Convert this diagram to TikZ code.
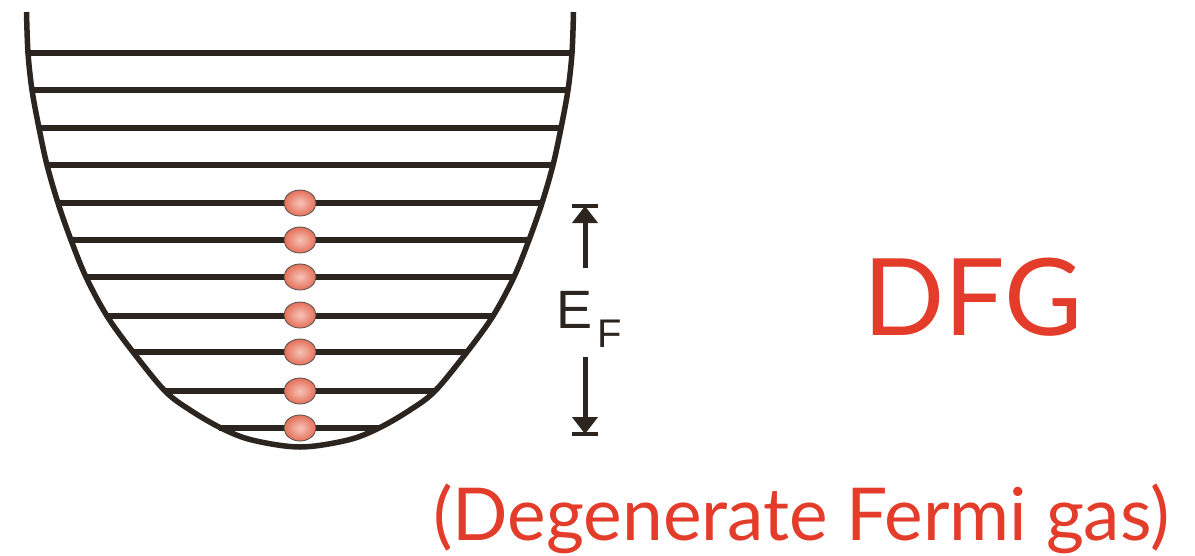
\documentclass[tikz,border=0pt]{standalone}
\usepackage{fontspec}
\setmainfont{Lato}
\newfontfamily\helv{Liberation Sans}
\usetikzlibrary{arrows.meta,shapes.geometric}
\definecolor{ink}{RGB}{43,36,31}
\definecolor{dfgred}{RGB}{228,60,42}
\definecolor{ballin}{RGB}{247,196,182}
\definecolor{ballout}{RGB}{228,112,90}
\begin{document}
\begin{tikzpicture}[x=1pt,y=-1pt,
  bowl/.style={draw=ink,line width=5.5pt,line join=round},
  level/.style={draw=ink,line width=5.5pt},
  particle/.style={ellipse,minimum width=32pt,minimum height=26pt,inner sep=0pt,
     draw=ink!80,line width=0.8pt,inner color=ballin,outer color=ballout},
  arr/.style={draw=ink,line width=5pt,-{Triangle[length=17pt,width=25pt]}},
  bar/.style={draw=ink,line width=4pt},
  lbl/.style={inner sep=0pt,anchor=base west}]
\useasboundingbox (0,0) rectangle (1195,555);
% bowl
\draw[bowl] plot[smooth,tension=0.55] coordinates {
  (26.5,12) (28,53) (32,90) (39,128) (47,165) (58,203) (71,240) (86,277)
  (107,316) (133,352) (165,391) (190,410) (221,428) (252,440) (300,447)
  (348,440) (379,428) (410,410) (435,391) (467,352) (493,316) (514,277) (529,240) (542,203)
  (553,165) (561,128) (568,90) (572,53) (573.5,12)};
% levels
\draw[level] (28,53) -- (572,53);
\draw[level] (32,90) -- (568,90);
\draw[level] (39,128) -- (561,128);
\draw[level] (47,165) -- (553,165);
\draw[level] (58,203) -- (542,203);
\draw[level] (71,240) -- (529,240);
\draw[level] (86,277) -- (514,277);
\draw[level] (107,316) -- (493,316);
\draw[level] (133,352) -- (467,352);
\draw[level] (165,391) -- (435,391);
\draw[level] (219,428) -- (379,428);
% particles
\foreach \y [count=\i] in {203,240,277,315,352,391,428}
  \node[particle] (p\i) at (300,\y) {};
% Fermi energy arrows
\coordinate (ut) at (585,206);
\coordinate (ub) at (585,268);
\coordinate (dt) at (585,357);
\coordinate (db) at (585,434);
\draw[arr] (ub) -- (ut);
\draw[arr] (dt) -- (db);
\draw[bar] ([xshift=-13pt]ut) -- ([xshift=13pt]ut);
\draw[bar] ([xshift=-13pt]db) -- ([xshift=13pt]db);
\node[lbl,text=ink,font=\helv\fontsize{54}{54}\selectfont] (E) at (556,328) {E};
\node[lbl,text=ink,font=\helv\fontsize{40}{40}\selectfont] (F) at (597,347) {F};
% labels
\node[lbl,text=dfgred,font=\fontsize{107}{107}\selectfont] (dfg) at (863,335) {DFG};
\node[lbl,text=dfgred,font=\fontsize{73}{73}\selectfont] (deg) at (433,540) {(Degenerate Fermi gas)};
\end{tikzpicture}
\end{document}
